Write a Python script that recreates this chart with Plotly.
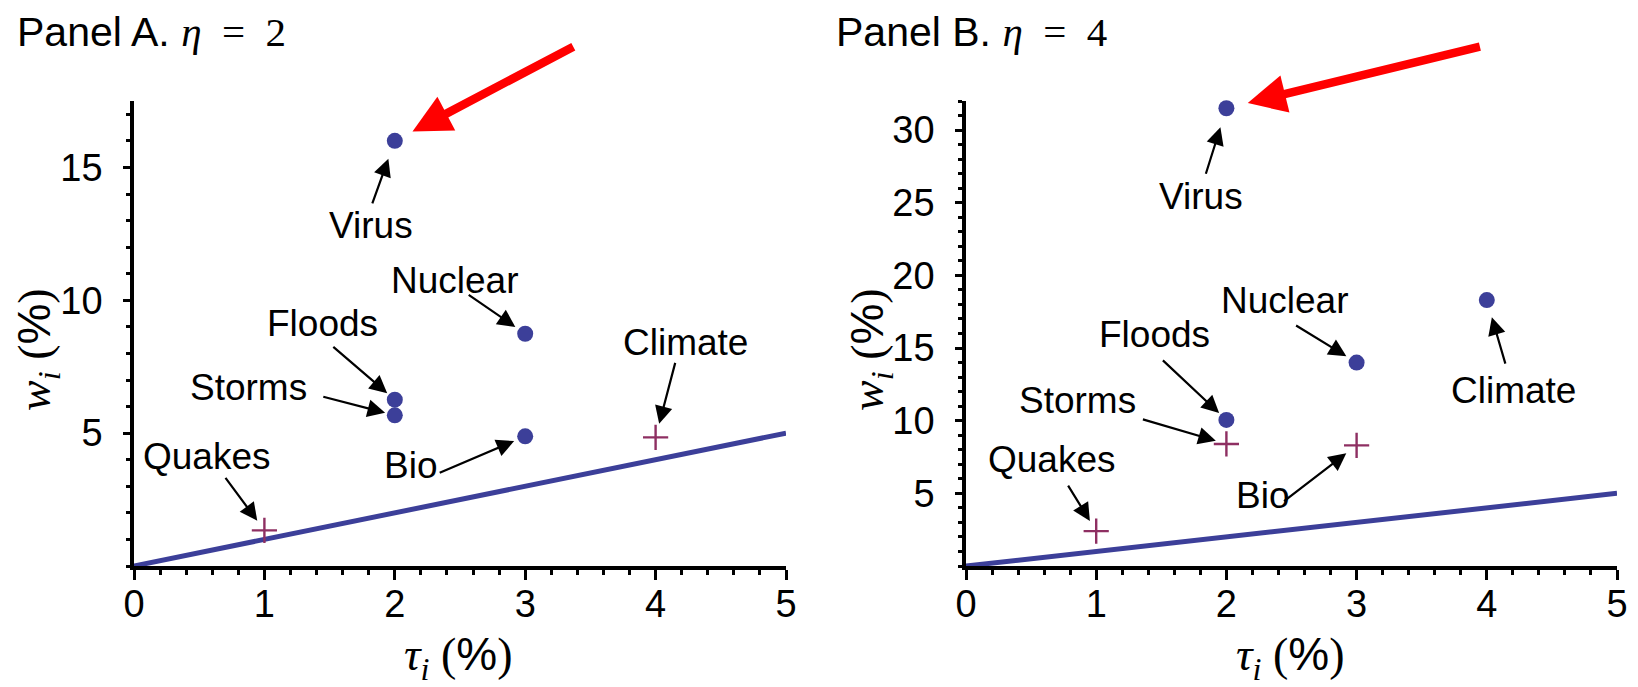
import plotly.graph_objects as go

# ---------------- data ----------------
labels_A = ["Virus", "Nuclear", "Floods", "Storms", "Bio", "Climate", "Quakes"]
tau_A = [2, 3, 2, 2, 3, 4, 1]
w_A = [16.0, 8.74, 6.26, 5.67, 4.88, 4.84, 1.34]
kind_A = ["dot", "dot", "dot", "dot", "dot", "plus", "plus"]

labels_B = ["Virus", "Climate", "Nuclear", "Floods", "Storms", "Bio", "Quakes"]
tau_B = [2, 4, 3, 2, 2, 3, 1]
w_B = [31.5, 18.3, 14.0, 10.05, 8.4, 8.3, 2.4]
kind_B = ["dot", "dot", "dot", "dot", "plus", "plus", "plus"]

line_tau = [0, 5]
line_w = [0, 5]

x_ticks = [0, 1, 2, 3, 4, 5]
y_ticks_A = [5, 10, 15]
y_ticks_B = [5, 10, 15, 20, 25, 30]

# ---------------- styles ----------------
BLUE = "#3c3f99"
PLUM = "#8e2f62"
FONT = "Liberation Sans, Arial, sans-serif"
SERIF = "Liberation Serif, Times New Roman, serif"

# label offsets (px) relative to point: (label dx, label dy, tail dx, tail dy, standoff)
off_A = {
    "Virus": (-24, 85, -23, 64, 19),
    "Nuclear": (-70, -53, -58, -40, 12),
    "Floods": (-72, -76, -63, -54, 10),
    "Storms": (-146, -28, -73, -19, 10),
    "Bio": (-115, 29, -87, 37, 12),
    "Climate": (30, -95, 20, -76, 14),
    "Quakes": (-57, -74, -40, -54, 12),
}
off_B = {
    "Virus": (-25, 88, -21, 67, 20),
    "Climate": (27, 90, 19, 65, 18),
    "Nuclear": (-72, -62, -62, -38, 12),
    "Floods": (-72, -85, -65, -61, 10),
    "Storms": (-149, -43, -85, -25, 11),
    "Bio": (-94, 50, -74, 57, 13),
    "Quakes": (-44, -72, -29, -47, 12),
}
red_A = (180, -95, 20)
red_B = (255, -62, 22)

fig = go.Figure()

def add_panel(labels, tau, w, kind, xa, ya, offs, red):
    xref = "x" if xa == "x" else "x2"
    yref = "y" if ya == "y" else "y2"
    fig.add_trace(go.Scatter(x=line_tau, y=line_w, mode="lines",
                             line=dict(color=BLUE, width=5),
                             xaxis=xa, yaxis=ya, showlegend=False,
                             cliponaxis=False))
    dx = [t for t, k in zip(tau, kind) if k == "dot"]
    dy = [v for v, k in zip(w, kind) if k == "dot"]
    px = [t for t, k in zip(tau, kind) if k == "plus"]
    py = [v for v, k in zip(w, kind) if k == "plus"]
    fig.add_trace(go.Scatter(x=dx, y=dy, mode="markers",
                             marker=dict(color=BLUE, size=16, symbol="circle"),
                             xaxis=xa, yaxis=ya, showlegend=False, cliponaxis=False))
    fig.add_trace(go.Scatter(x=px, y=py, mode="markers",
                             marker=dict(color=PLUM, size=18, symbol="cross-thin",
                                         line=dict(color=PLUM, width=2.4)),
                             xaxis=xa, yaxis=ya, showlegend=False, cliponaxis=False))
    for lab, t, v in zip(labels, tau, w):
        ldx, ldy, tdx, tdy, so = offs[lab]
        fig.add_annotation(x=t, y=v, xref=xref, yref=yref, text=lab,
                           showarrow=False, xanchor="center", yanchor="middle",
                           xshift=ldx, yshift=-ldy,
                           font=dict(family=FONT, size=37, color="black"))
        fig.add_annotation(x=t, y=v, xref=xref, yref=yref, text="",
                           showarrow=True, ax=tdx, ay=tdy, standoff=so,
                           arrowhead=2, arrowsize=1.6, arrowwidth=2.2,
                           arrowcolor="black")
    i = labels.index("Virus")
    fig.add_annotation(x=tau[i], y=w[i], xref=xref, yref=yref, text="",
                       showarrow=True, ax=red[0], ay=red[1], standoff=red[2],
                       arrowhead=2, arrowsize=0.9, arrowwidth=8.5,
                       arrowcolor="#ff0000")

add_panel(labels_A, tau_A, w_A, kind_A, "x", "y", off_A, red_A)
add_panel(labels_B, tau_B, w_B, kind_B, "x2", "y2", off_B, red_B)

W, H = 1638, 687
yd = [1 - 566 / H, 1 - 101 / H]

def xaxis(domain, anchor):
    return dict(domain=domain, anchor=anchor, range=[0, 5], tickvals=x_ticks,
                showline=True, linewidth=3.5, linecolor="black", showgrid=False,
                zeroline=False, ticks="outside", ticklen=10, tickwidth=3,
                tickcolor="black", tickfont=dict(family=FONT, size=38, color="black"),
                minor=dict(dtick=0.2, tick0=0, ticks="outside", ticklen=5,
                           tickwidth=2.5, tickcolor="black", showgrid=False),
                ticklabelstandoff=-8, automargin=False)

def yaxis(domain, anchor, rng, tv):
    return dict(domain=domain, anchor=anchor, range=rng, tickvals=tv,
                showline=True, linewidth=3.5, linecolor="black", showgrid=False,
                zeroline=False, ticks="outside", ticklen=7, tickwidth=3,
                tickcolor="black", tickfont=dict(family=FONT, size=38, color="black"),
                minor=dict(dtick=1, tick0=0, ticks="outside", ticklen=4,
                           tickwidth=2.5, tickcolor="black", showgrid=False),
                ticklabelstandoff=13, automargin=False)

fig.update_layout(
    width=W, height=H, margin=dict(l=0, r=0, t=0, b=0, pad=0, autoexpand=False),
    paper_bgcolor="white", plot_bgcolor="white",
    xaxis=xaxis([134 / W, 786 / W], "y"),
    yaxis=yaxis(yd, "x", [0, 17.5], y_ticks_A),
    xaxis2=xaxis([966 / W, 1617 / W], "y2"),
    yaxis2=yaxis(yd, "x2", [0, 32], y_ticks_B),
)

SP = "\u2002"
for txt, xp, num in [("Panel A. ", 15, "2"), ("Panel B. ", 834, "4")]:
    fig.add_annotation(xref="paper", yref="paper", x=xp / W, y=1 - 32 / H,
                       xanchor="left", yanchor="middle", showarrow=False,
                       text=txt + f"<span style='font-family:{SERIF}'><i>η</i>{SP}={SP}{num}</span>",
                       font=dict(family=FONT, size=41, color="black"))

ytitle = (f"<span style='font-family:{SERIF}'><i>w<sub>i</sub></i> (</span>"
          f"<span style='font-family:{FONT}'>%</span>"
          f"<span style='font-family:{SERIF}'>)</span>")
xtitle = (f"<span style='font-family:{SERIF}'><i>τ<sub>i</sub></i> (</span>"
          f"<span style='font-family:{FONT}'>%</span>"
          f"<span style='font-family:{SERIF}'>)</span>")
for xp in [37, 870]:
    fig.add_annotation(xref="paper", yref="paper", x=xp / W, y=1 - 350 / H,
                       xanchor="center", yanchor="middle", showarrow=False,
                       text=ytitle, textangle=-90,
                       font=dict(family=SERIF, size=46, color="black"))
for xp in [458, 1290]:
    fig.add_annotation(xref="paper", yref="paper", x=xp / W, y=1 - 657 / H,
                       xanchor="center", yanchor="middle", showarrow=False,
                       text=xtitle,
                       font=dict(family=SERIF, size=46, color="black"))

fig.write_html("out.html", config={"displayModeBar": False},
               post_script="document.body.style.margin='0px';document.body.style.overflow='hidden';")
